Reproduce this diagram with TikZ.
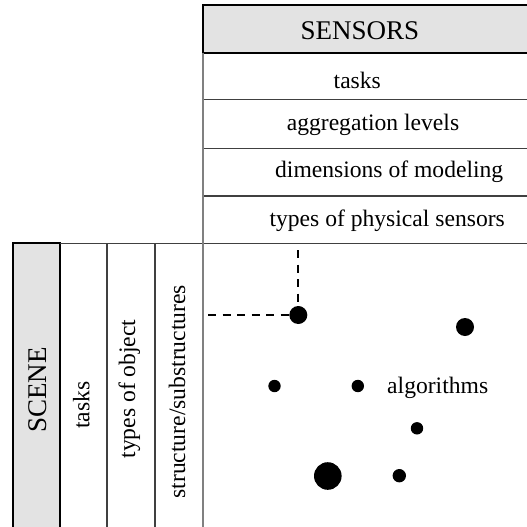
\documentclass[tikz,border=0pt]{standalone}
\usepackage{fontspec}
\setmainfont{Liberation Serif}
\begin{document}
\begin{tikzpicture}[x=1pt,y=-1pt,
  titlebox/.style={draw=black, line width=2pt, fill=black!11},
  rowline/.style={draw=black!75, line width=1.2pt},
  axisline/.style={draw=black!50, line width=2pt},
  txt/.style={font=\fontsize{23.6}{28}\selectfont, inner sep=0pt, anchor=base},
  ttl/.style={font=\fontsize{27}{32}\selectfont, inner sep=0pt, anchor=base},
  dot/.style={circle, fill=black, inner sep=0pt, minimum size=#1},
  guide/.style={draw=black, line width=1.8pt, dash pattern=on 8pt off 6.5pt}
]
\useasboundingbox (0,0) rectangle (527,527);
\clip (0,0) rectangle (527,527);
% header boxes
\path[titlebox] (202.7,4.7) rectangle (540,52.7);
\path[titlebox] (12.5,243.3) rectangle (60,540);
% row lines of the sensors table
\draw[rowline] (202.7,99.5) -- (540,99.5);
\draw[rowline] (202.7,148.2) -- (540,148.2);
\draw[rowline] (202.7,196) -- (540,196);
\draw[rowline] (60,243.3) -- (540,243.3);
% column lines of the scene table
\draw[rowline] (107,243.3) -- (107,540);
\draw[rowline] (155,243.3) -- (155,540);
% main axis
\draw[axisline] (202.7,52.7) -- (202.7,540);
% texts
\node[ttl] (sensors) at (360,39.3) {SENSORS};
\node[txt] (stasks) at (357.3,88.3) {tasks};
\node[txt] (saggr) at (373,130.7) {aggregation levels};
\node[txt] (sdim) at (389.2,177.3) {dimensions of modeling};
\node[txt] (stypes) at (387.2,226.7) {types of physical sensors};
\node[ttl, rotate=90] (scene) at (46.5,390) {SCENE};
\node[txt, rotate=90] (ctasks) at (89.3,405) {tasks};
\node[txt, rotate=90] (cobj) at (135,389) {types of object};
\node[txt, rotate=90] (cstruct) at (185,391.7) {structure/substructures};
\node[txt] (alg) at (437.7,393.3) {algorithms};
% dots
\node[dot=18pt] (d1) at (298.3,315) {};
\node[dot=18pt] (d2) at (465,327) {};
\node[dot=12.4pt] (d3) at (274.5,386) {};
\node[dot=12.4pt] (d4) at (357.8,386) {};
\node[dot=12.4pt] (d5) at (417,428.3) {};
\node[dot=27.6pt] (d6) at (327.8,476) {};
\node[dot=13.4pt] (d7) at (399.3,475.7) {};
% dashed guides
\coordinate (gtop) at (298.3,250);
\coordinate (gleft) at (208,315);
\draw[guide] (gtop) -- (d1.north);
\draw[guide] (gleft) -- (d1.west);
\end{tikzpicture}
\end{document}
